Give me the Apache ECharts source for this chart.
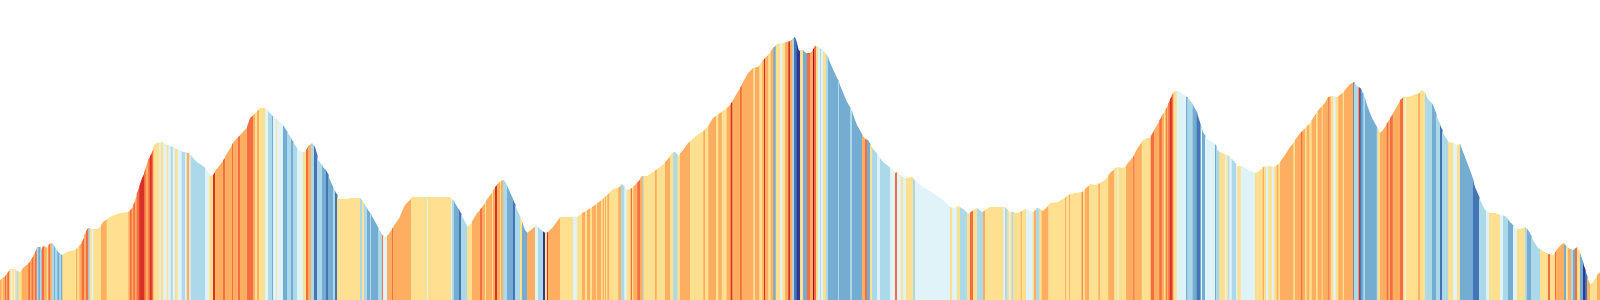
<!DOCTYPE html>
<html>
<head>
<meta charset="utf-8">
<script src="https://cdn.jsdelivr.net/npm/echarts@6/dist/echarts.min.js"></script>
<style>
  html, body { margin: 0; padding: 0; background: #ffffff; }
  #chart { width: 1600px; height: 300px; }
</style>
</head>
<body>
<div id="chart"></div>
<script>
// Elevation profile: distance (km) and elevation (m)
const dist = [
  0,0.5,0.8,1.0,1.5,1.7,2.0,2.3,2.8,3.2, 3.5,3.7,4.0,4.1,4.3,4.7,4.9,5.2,5.5,5.8, 6.0,6.2,6.7,7.0,7.5,7.8,8.2,8.5,8.8,9.2, 9.7,10.0,10.3,10.7,11.2,11.7,12.0,12.8,13.2,13.5, 13.8,14.2,14.5,14.8,15.2,15.4,15.7,16.2,16.5,17.0, 17.7,18.3,18.8,19.0,19.3,19.8,
  20.0,20.5,21.0,21.3,21.5,22.0,22.5,23.2,23.7,24.2, 24.7,25.0,25.5,26.0,26.5,26.8,27.3,27.8,28.3,28.7, 29.2,29.7,30.2,30.5,30.8,31.2,31.5,31.8,32.3,32.7, 33.0,33.3,33.7,33.8,34.8,35.0,36.0,36.3,36.8,37.3, 37.8,38.2,38.5,38.8,39.3,
  40.0,40.5,41.2,45.0,45.3,45.8,46.3,46.7,47.0,47.7, 48.2,48.8,49.5,50.0,50.4,50.8,51.3,51.8,52.2,52.5, 52.7,53.2,53.6,54.0,54.5,54.8,55.3,55.8,56.0,57.7, 58.2,59.2,
  60.0,60.7,61.3,61.8,62.2,62.7,63.2,63.7,64.2,64.7, 65.3,66.0,66.7,67.2,67.5,67.8,68.3,68.8,69.5,70.0, 70.7,71.3,72.0,72.8,73.2,73.7,74.3,74.8,75.3,75.8, 76.3,76.8,77.3,77.7,78.3,79.0,79.3,79.5,79.7,79.9,
  80.0,80.3,80.6,81.0,81.2,81.3,81.5,81.8,82.3,82.7, 83.2,83.7,84.2,84.7,85.2,85.7,86.2,86.5,86.8,87.2, 87.7,88.3,89.0,89.5,89.7,90.2,90.7,91.2,91.5,92.3, 93.3,94.3,95.0,95.3,95.8,96.3,96.8,97.3,97.7,98.2, 98.5,99.0,
  100.0,100.5,100.8,101.3,101.7,102.2,102.5,103.0,103.3,103.7, 104.0,104.3,104.7,105.0,105.8,106.3,106.8,107.5,108.2,108.7, 109.0,109.5,110.0,110.5,111.0,111.5,111.8,112.2,112.5,112.8, 113.3,113.7,114.2,114.7,115.0,115.3,115.7,116.2,116.7,117.0, 117.3,117.5,117.8,118.3,118.8,119.2,119.7,
  120.0,120.3,120.6,121.0,121.5,121.8,122.2,122.7,123.2,123.7, 124.2,124.7,125.0,125.5,125.8,126.3,126.8,127.3,127.7,128.0, 128.5,129.0,129.5,130.0,130.5,131.0,131.5,132.0,132.5,132.8, 133.3,133.7,134.0,134.5,135.0,135.4,135.7,136.0,136.3,136.7, 137.2,137.7,138.0,138.3,138.7,139.2,139.5,
  140.0,140.3,140.7,141.2,141.5,141.8,142.2,142.5,142.8,143.3, 143.7,144.0,144.3,144.8,145.3,145.7,146.0,146.5,147.0,147.5, 148.0,148.5,149.0,149.5,150.0,150.5,151.0,151.5,152.0,152.5, 152.8,153.3,153.8,154.3,154.8,155.3,155.8,156.3,156.7,157.0, 157.3,157.7,158.0,158.3,158.7,159.0,159.3,159.7,160.0
];
const elev = [
  100,120,140,155,155,145,140,160,180,210, 240,265,265,250,270,260,280,285,260,240, 230,225,240,245,250,265,290,335,360,355, 355,365,390,405,420,430,435,440,460,500, 550,610,650,700,740,775,785,790,780,770, 755,740,735,730,710,685,
  680,660,620,625,645,675,715,780,810,835, 865,910,935,960,960,945,915,900,875,840, 800,755,740,740,770,785,765,700,665,640, 600,560,525,505,505,510,510,490,450,410, 360,325,315,325,365,
  420,475,515,515,500,460,410,365,375,435, 465,510,565,595,600,560,500,440,390,350, 335,355,375,355,335,340,365,400,415,415, 435,465,
  495,525,555,560,580,550,560,585,620,620, 640,665,700,735,740,720,750,785,815,835, 860,910,935,965,990,1035,1090,1135,1160,1165, 1200,1225,1260,1280,1285,1295,1310,1315,1280,1245,
  1250,1250,1235,1235,1245,1255,1270,1265,1245,1225, 1165,1110,1050,990,940,875,825,805,800,760, 730,690,660,635,640,615,610,615,595,565, 535,500,465,460,470,455,430,450,460,440, 450,465,
  465,465,445,440,435,445,455,445,440,460, 455,445,465,485,490,505,525,535,540,565, 580,575,585,600,635,660,665,660,665,685, 715,755,795,810,810,840,875,925,965,1005, 1035,1045,1045,1030,1010,985,935,
  880,840,810,795,780,745,735,725,705,670, 670,655,645,635,640,665,670,665,675,690, 725,765,800,835,860,885,925,960,985,1015, 1020,1015,1025,1050,1080,1090,1070,1060,1035,975, 910,860,835,850,885,925,950,
  1000,1015,1015,1020,1030,1030,1050,1035,1005,975, 915,875,835,790,785,775,780,715,650,565, 500,450,435,435,425,420,390,360,355,365, 350,300,260,245,230,225,260,285,265,255, 250,265,235,185,115,75,90,125,140
];

// Gradient stripes: [end distance (km), gradient (%)]; each stripe starts where the previous ends
const stripes = [
  [0.17,4],[0.27,1],[0.5,4],[0.6,8],[0.73,4],[0.93,8],[1.1,1],[1.23,-1],[1.4,1],[1.5,-1],[1.67,1],[1.83,-3],[2.17,1],[2.83,4],[3.0,8],[3.17,4],[3.33,8],[3.5,4],[3.67,8],[3.83,-3],[4.0,-6],[4.17,-3],[4.4,8],[4.67,4],[4.83,1],[5.0,8],[5.17,4],[5.4,-3],[5.5,-6],[5.73,-3],[5.93,-6],[6.1,-3],[6.23,-6],[7.6,1],[7.73,4],[7.93,1],[8.17,4],[8.4,8],[8.6,4],[8.83,8],[9.0,-3],[9.17,1],[9.33,-1],[10.1,1],[10.67,4],[12.83,1],[13.0,4],[13.17,8],[13.33,4],[13.5,8],[13.67,4],[13.93,8],[14.4,12],[14.57,8],[14.83,4],[15.0,8],[15.17,12],[15.33,8],[15.93,1],[16.07,-1],[16.33,1],[16.67,-1],[16.83,1],[17.07,-1],[17.27,-3],[17.5,-1],[17.77,1],[18.17,-1],[18.5,-3],[18.67,-1],[18.93,4],[19.07,-1],[20.0,-3],
  [20.5,-3],[20.9,-1],[21.3,1],[21.5,12],[22.3,4],[22.5,8],[23.2,4],[23.3,8],[23.8,4],[24.0,8],[24.7,4],[25.3,8],[25.5,4],[25.7,1],[25.9,4],[26.5,1],[26.8,-1],[27.2,-3],[27.3,-6],[27.6,-1],[27.7,1],[28.3,-1],[28.7,-6],[29.1,-3],[29.3,-6],[29.7,-3],[30.3,-1],[30.6,1],[30.8,8],[31.1,4],[31.4,-3],[31.7,-10],[32.2,-3],[32.6,-6],[32.8,-10],[33.3,-6],[33.5,-3],[33.7,-10],[36.0,1],[36.2,-3],[36.4,1],[36.7,-3],[37.0,-6],[37.1,-3],[37.8,-6],[38.2,-3],[38.3,8],[38.7,-1],[39.2,4],[39.3,8],[40.0,4],
  [41.1,4],[42.7,1],[42.8,-1],[45.1,1],[45.2,-1],[45.4,-3],[45.9,-6],[46.1,-10],[46.7,-3],[47.2,1],[48.0,4],[48.2,8],[48.5,4],[48.6,1],[49.2,4],[49.3,1],[49.5,4],[49.7,12],[50.0,4],[50.1,1],[50.3,4],[50.7,-3],[51.3,-6],[51.5,-10],[52.0,-3],[52.2,1],[52.7,-6],[53.5,4],[53.8,-1],[54.3,-3],[54.5,-14],[54.7,1],[54.8,12],[56.0,4],[57.3,1],[57.7,-1],[58.2,1],[58.5,4],[58.7,1],[59.0,4],[59.2,1],[59.6,4],[59.7,1],[60.0,4],
  [60.1,4],[60.27,1],[60.4,4],[60.5,1],[60.6,4],[60.73,1],[60.93,4],[61.83,1],[62.1,4],[62.43,-3],[62.67,-1],[63.07,1],[63.2,8],[63.33,1],[63.73,4],[64.0,8],[64.27,4],[64.37,-3],[65.5,1],[65.67,4],[66.5,1],[67.0,4],[67.33,1],[67.73,-3],[68.0,1],[69.0,4],[70.33,1],[70.5,4],[70.83,1],[71.6,4],[71.83,1],[72.17,4],[72.67,1],[73.07,4],[73.23,12],[74.0,4],[74.17,8],[75.33,4],[75.5,1],[75.93,4],[76.23,1],[76.4,4],[76.5,12],[76.83,4],[77.07,1],[77.33,4],[77.57,-6],[78.0,1],[78.23,-1],[78.5,1],[78.83,4],[79.0,12],[79.23,4],[79.4,-3],[79.67,-10],[80.0,-14],
  [80.3,1],[80.7,-6],[81.0,8],[81.3,4],[81.4,16],[81.6,8],[81.8,1],[82.0,-1],[82.1,-3],[82.3,-1],[82.6,1],[82.8,-3],[83.8,-6],[83.9,-3],[85.0,-6],[85.2,-3],[86.2,-6],[86.5,4],[86.7,8],[87.0,-6],[87.2,1],[87.7,-3],[88.0,-1],[89.0,-3],[89.5,-1],[89.7,8],[90.1,-1],[90.3,1],[90.6,-1],[91.3,1],[91.5,-3],[95.0,-1],[95.2,1],[95.7,-1],[96.0,1],[96.7,-3],[97.0,1],[97.3,8],[97.7,1],[98.3,-3],[98.5,4],[100.0,1],
  [100.33,1],[100.5,-1],[100.73,-3],[100.93,1],[101.07,-1],[101.17,1],[101.33,-3],[102.07,1],[102.17,4],[102.6,1],[103.27,-1],[103.4,1],[103.6,4],[103.93,-3],[104.17,1],[104.83,4],[106.5,1],[106.6,4],[106.9,1],[107.0,4],[108.17,1],[108.27,8],[108.5,1],[108.9,4],[109.83,1],[110.0,4],[110.83,1],[111.4,4],[111.73,1],[111.83,-1],[112.6,1],[113.33,4],[113.43,8],[114.17,4],[115.07,1],[115.4,8],[115.93,4],[116.17,8],[116.4,4],[116.57,1],[116.67,8],[116.83,4],[117.0,8],[117.17,12],[117.33,8],[117.67,1],[118.6,-1],[118.73,-6],[119.27,-3],[119.67,-6],[120.0,-10],
  [120.1,-6],[120.2,-1],[120.5,-6],[121.5,-1],[121.6,-6],[121.93,-3],[122.5,1],[122.67,-1],[122.83,1],[122.93,-3],[123.17,-1],[123.6,-3],[123.73,-1],[124.07,1],[125.5,-1],[126.27,1],[126.4,4],[126.6,1],[126.83,-1],[127.17,1],[127.4,-1],[127.67,1],[127.83,4],[128.0,1],[129.33,4],[129.5,1],[130.1,4],[130.23,8],[130.5,4],[130.67,1],[130.93,4],[131.17,1],[131.6,4],[131.77,1],[132.17,4],[132.27,1],[132.83,4],[132.93,8],[133.07,4],[133.33,1],[133.57,-1],[133.83,1],[134.27,4],[134.4,1],[135.33,4],[135.4,-10],[135.87,-3],[136.0,12],[136.13,-10],[136.33,-6],[136.5,-3],[137.67,-6],[137.77,-3],[138.0,1],[138.67,4],[138.83,8],[139.0,4],[139.27,8],[140.0,4],
  [140.3,8],[140.5,1],[140.6,-1],[141.8,1],[142.0,4],[142.5,1],[143.2,-3],[143.6,-6],[144.0,-3],[144.2,-10],[144.8,-3],[145.3,1],[145.7,-1],[146.0,1],[147.3,-6],[147.9,-10],[148.6,-3],[148.9,-1],[150.0,1],[150.3,-1],[150.8,-3],[151.3,-6],[151.7,-1],[152.5,1],[152.7,-3],[153.1,-6],[154.0,-3],[154.8,1],[155.0,8],[155.5,1],[155.6,8],[156.4,4],[156.6,-6],[156.8,1],[157.1,4],[157.3,-3],[157.5,-6],[157.7,8],[158.0,1],[158.3,-6],[158.5,-14],[158.7,-10],[159.0,4],[159.7,1],[160.0,4]
];

const Y_MIN = 0, Y_MAX = 1500, X_MAX = 160;

function elevAt(d) {
  if (d <= dist[0]) return elev[0];
  if (d >= dist[dist.length - 1]) return elev[elev.length - 1];
  let lo = 0, hi = dist.length - 1;
  while (hi - lo > 1) {
    const mid = (lo + hi) >> 1;
    if (dist[mid] <= d) lo = mid; else hi = mid;
  }
  const t = (d - dist[lo]) / (dist[hi] - dist[lo]);
  return elev[lo] + t * (elev[hi] - elev[lo]);
}

const stripeData = stripes.map((s, i) => [i ? stripes[i - 1][0] : 0, s[0], s[1]]);

const chart = echarts.init(document.getElementById('chart'), null, { renderer: 'canvas' });
chart.setOption({
  animation: false,
  backgroundColor: '#ffffff',
  grid: { left: 0, right: 0, top: 0, bottom: 0 },
  xAxis: { type: 'value', min: 0, max: X_MAX, show: false },
  yAxis: { type: 'value', min: Y_MIN, max: Y_MAX, show: false },
  visualMap: {
    type: 'piecewise', show: false, dimension: 2, seriesIndex: 0,
    pieces: [
      { lt: -12, color: '#313695' },
      { gte: -12, lt: -8, color: '#4575b4' },
      { gte: -8, lt: -4.5, color: '#74add1' },
      { gte: -4.5, lt: -2, color: '#abd9e9' },
      { gte: -2, lt: 0, color: '#e0f3f8' },
      { gte: 0, lt: 2, color: '#fee090' },
      { gte: 2, lt: 6, color: '#fdae61' },
      { gte: 6, lt: 10, color: '#f46d43' },
      { gte: 10, lt: 14, color: '#d73027' },
      { gte: 14, color: '#a50026' }
    ]
  },
  series: [{
    type: 'custom',
    data: stripeData,
    encode: { x: [0, 1] },
    renderItem: function (params, api) {
      const x0 = api.value(0), x1 = api.value(1);
      const pts = [];
      pts.push(api.coord([x0, Y_MIN]));
      pts.push(api.coord([x0, elevAt(x0)]));
      for (let i = 0; i < dist.length; i++) {
        if (dist[i] > x0 && dist[i] < x1) pts.push(api.coord([dist[i], elev[i]]));
      }
      const t1 = api.coord([x1, elevAt(x1)]);
      const b1 = api.coord([x1, Y_MIN]);
      const pad = x1 < X_MAX ? 0.6 : 0;
      pts.push([t1[0] + pad, t1[1]]);
      pts.push([b1[0] + pad, b1[1]]);
      return {
        type: 'polygon',
        shape: { points: pts },
        style: { fill: api.visual('color'), stroke: null, lineWidth: 0 }
      };
    }
  }]
});
</script>
</body>
</html>
